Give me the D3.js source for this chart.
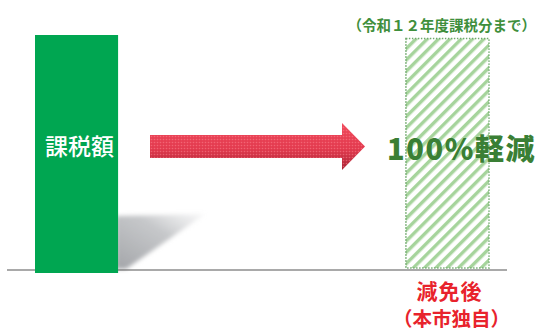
<!DOCTYPE html>
<html>
<head>
<meta charset="utf-8">
<script src="https://cdn.jsdelivr.net/npm/d3@7"></script>
<style>
  body { margin: 0; background: #fff; }
  svg { display: block; font-family: "Noto Sans CJK JP", "Noto Sans", sans-serif; }
</style>
</head>
<body>
<script>
// chart data
var categories = ["課税額", "減免後"];
var values = [100, 98.5];
var reductionLabel = "100%軽減";
var noteLabel = "（令和１２年度課税分まで）";
var afterSubLabel = "（本市独自）";

var width = 536, height = 330;

var svg = d3.select("body")
            .append("svg")
            .attr("width", width)
            .attr("height", height);

var x = d3.scaleBand()
          .domain(categories)
          .range([35, 489])
          .paddingInner(0.776)
          .paddingOuter(0);

var y = d3.scaleLinear()
          .domain([0, 100])
          .range([270, 35]);

var defs = svg.append("defs");

// diagonal hatch for the reduced bar
var hatch = defs.append("pattern")
                .attr("id", "hatch")
                .attr("patternUnits", "userSpaceOnUse")
                .attr("width", 8)
                .attr("height", 8)
                .attr("patternTransform", "rotate(45)");
hatch.append("rect").attr("width", 8).attr("height", 8).attr("fill", "#fff");
hatch.append("rect").attr("width", 3.4).attr("height", 8).attr("fill", "#a6d49c");

// arrow gradient + dot texture
var grad = defs.append("linearGradient")
               .attr("id", "arrowGrad")
               .attr("x1", 0).attr("y1", 0).attr("x2", 0).attr("y2", 1);
grad.append("stop").attr("offset", "0%").attr("stop-color", "#f04a5c");
grad.append("stop").attr("offset", "55%").attr("stop-color", "#e23a4e");
grad.append("stop").attr("offset", "100%").attr("stop-color", "#a82636");

var dots = defs.append("pattern")
               .attr("id", "dots")
               .attr("patternUnits", "userSpaceOnUse")
               .attr("width", 3).attr("height", 3);
dots.append("circle").attr("cx", 1.5).attr("cy", 1.5).attr("r", 0.8)
    .attr("fill", "#ff8a96").attr("opacity", 0.5);

// shadow gradient
var sg = defs.append("linearGradient")
             .attr("id", "shadowGrad")
             .attr("x1", 0).attr("y1", 1).attr("x2", 1).attr("y2", 0);
sg.append("stop").attr("offset", "0%").attr("stop-color", "#9ea0a4").attr("stop-opacity", 0.95);
sg.append("stop").attr("offset", "60%").attr("stop-color", "#b8babd").attr("stop-opacity", 0.8);
sg.append("stop").attr("offset", "100%").attr("stop-color", "#d8d9db").attr("stop-opacity", 0.2);

defs.append("filter").attr("id", "blur")
    .append("feGaussianBlur").attr("stdDeviation", 2);

// shadow behind first bar
var bx = x(categories[0]) + x.bandwidth();
svg.append("path")
   .attr("d", "M" + (bx - 2) + ",269 L" + (bx - 2) + "," + 216 +
              " L" + 205 + ",214 L" + (bx + 8) + ",269 Z")
   .attr("fill", "url(#shadowGrad)")
   .attr("filter", "url(#blur)");

// baseline
svg.append("line")
   .attr("x1", 7).attr("x2", 507)
   .attr("y1", y(0)).attr("y2", y(0))
   .style("stroke", "#555")
   .style("stroke-width", 1.2);

// first bar (tax amount)
svg.append("rect")
   .attr("x", x(categories[0]))
   .attr("y", y(values[0]))
   .attr("width", x.bandwidth())
   .attr("height", y(0) - y(values[0]) + 3)
   .style("fill", "#00a651");

svg.append("text")
   .attr("x", x(categories[0]) + x.bandwidth() / 2 + 3)
   .attr("y", (y(values[0]) + y(0)) / 2 - 8)
   .attr("text-anchor", "middle")
   .attr("dominant-baseline", "central")
   .style("fill", "#fff")
   .style("font-size", "23px")
   .style("font-weight", 500)
   .text(categories[0]);

// second bar (after reduction, hatched)
svg.append("rect")
   .attr("x", x(categories[1]))
   .attr("y", y(values[1]))
   .attr("width", x.bandwidth())
   .attr("height", y(0) - y(values[1]) - 2)
   .style("fill", "url(#hatch)")
   .style("stroke", "#6fa86c")
   .style("stroke-width", 1.6)
   .style("stroke-dasharray", "1.4,1.6");

// arrow
var ax0 = 150, ax1 = 342, axTip = 365, ay = 146.5;
var arrowPath = "M" + ax0 + "," + (ay - 11.5) + " L" + ax1 + "," + (ay - 11.5) +
                " L" + ax1 + "," + (ay - 23.5) + " L" + axTip + "," + ay +
                " L" + ax1 + "," + (ay + 23.5) + " L" + ax1 + "," + (ay + 11.5) +
                " L" + ax0 + "," + (ay + 11.5) + " Z";
svg.append("path").attr("d", arrowPath).attr("fill", "url(#arrowGrad)");
svg.append("path").attr("d", arrowPath).attr("fill", "url(#dots)");

// labels
svg.append("text")
   .attr("x", 536)
   .attr("y", 24)
   .attr("text-anchor", "end")
   .attr("dominant-baseline", "central")
   .style("fill", "#3f8f3c")
   .style("font-size", "14.5px")
   .style("font-weight", 700)
   .text(noteLabel);

svg.append("text")
   .attr("x", 387)
   .attr("y", 147)
   .attr("dominant-baseline", "central")
   .style("fill", "#3a7f35")
   .style("font-size", "29px")
   .style("font-weight", 900)
   .style("letter-spacing", "1.6px")
   .text(reductionLabel);

svg.append("text")
   .attr("x", x(categories[1]) + x.bandwidth() / 2 + 2)
   .attr("y", 290)
   .attr("text-anchor", "middle")
   .attr("dominant-baseline", "central")
   .style("fill", "#e8232c")
   .style("font-size", "21px")
   .style("font-weight", 700)
   .style("letter-spacing", "1px")
   .text(categories[1]);

svg.append("text")
   .attr("x", x(categories[1]) + x.bandwidth() / 2 + 4)
   .attr("y", 317)
   .attr("text-anchor", "middle")
   .attr("dominant-baseline", "central")
   .style("fill", "#e8232c")
   .style("font-size", "19.5px")
   .style("font-weight", 700)
   .text(afterSubLabel);
</script>
</body>
</html>
